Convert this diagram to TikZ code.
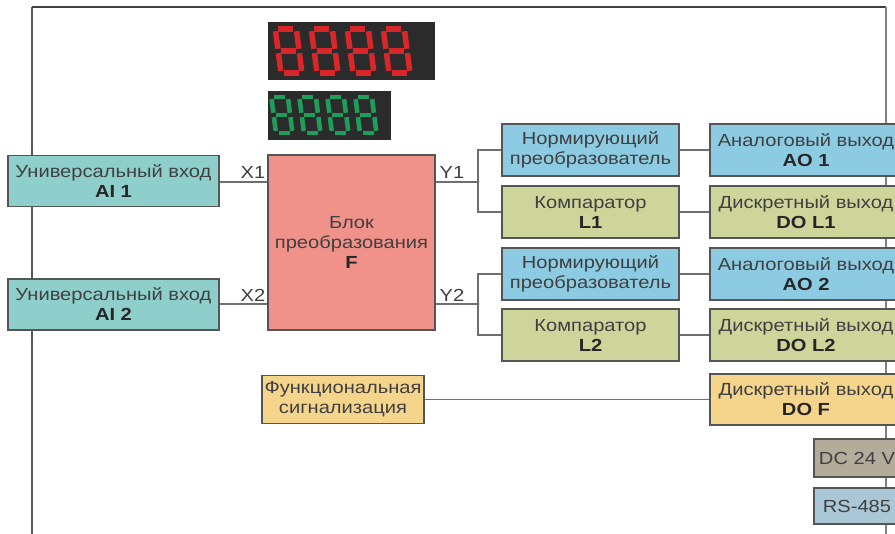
\documentclass[tikz,border=0pt]{standalone}
\usepackage{fontspec}
\setmainfont{Liberation Sans}[FakeStretch=1.15]
\definecolor{aicol}{HTML}{8FCFCB}
\definecolor{normcol}{HTML}{8DCBE3}
\definecolor{compcol}{HTML}{CDD59B}
\definecolor{fcol}{HTML}{F0918A}
\definecolor{funccol}{HTML}{F5D58C}
\definecolor{dccol}{HTML}{B3AC9B}
\definecolor{rscol}{HTML}{A9C7D6}
\definecolor{dispbg}{HTML}{2B2B2B}
\definecolor{segred}{HTML}{D8262A}
\definecolor{seggreen}{HTML}{1E9E5A}
\definecolor{bordcol}{HTML}{555555}
\definecolor{txtcol}{HTML}{404040}
\definecolor{wirecol}{HTML}{6E6E6E}
\newcommand\segdigit[6]{%
  \begin{scope}[shift={(#1,#2)},yscale=-1,xslant=0.13]
    \foreach \p/\q in {{(2.8,#4)}/{(#3-2.8,#4)},{(2.8,#4/2)}/{(#3-2.8,#4/2)},{(2.8,0)}/{(#3-2.8,0)},{(0,#4/2+2.2)}/{(0,#4-2.2)},{(0,2.2)}/{(0,#4/2-2.2)},{(#3,#4/2+2.2)}/{(#3,#4-2.2)},{(#3,2.2)}/{(#3,#4/2-2.2)}}{
      \draw[#5,line width=#6] \p -- \q;
    }
  \end{scope}}
\tikzset{
  blk/.style={draw=bordcol,line width=1.2pt,rectangle,inner sep=0pt,align=center,
    text=txtcol,font=\fontsize{17.5}{20}\selectfont},
  wire/.style={draw=wirecol,line width=1.6pt},
  frame/.style={line width=2pt},
  lbl/.style={text=txtcol,font=\fontsize{17.5}{20}\selectfont,inner sep=0pt}
}
\begin{document}
\begin{tikzpicture}[x=1pt,y=-1pt]
\useasboundingbox (0,0) rectangle (895,534);
\clip (0,0) rectangle (895,534);
\fill[white] (0,0) rectangle (895,534);
% frame
\coordinate (tl) at (32,7);
\coordinate (tr) at (886,7);
\coordinate (bl) at (32,540);
\coordinate (br) at (886,540);
\draw[frame,draw=black!65] (bl) -- (tl);
\draw[frame,draw=black!75] (tl) -- (tr);
\draw[frame,draw=black!50] (tr) -- (br);
% displays
\fill[dispbg] (268,22) rectangle (435,80);
\fill[dispbg] (268,91) rectangle (391,140);
\foreach \xx in {281,317,353,389}{\segdigit{\xx}{73}{21}{44}{segred}{5.5}}
\foreach \xx in {276,304,332,360}{\segdigit{\xx}{133}{16.5}{36}{seggreen}{4.6}}
% nodes
\node[blk,fill=aicol,minimum width=211,minimum height=51] (ai1) at (113.5,181) {Универсальный вход\\\textbf{\color{black!85}AI 1}};
\node[blk,fill=aicol,minimum width=211,minimum height=51] (ai2) at (113.5,304.5) {Универсальный вход\\\textbf{\color{black!85}AI 2}};
\node[blk,fill=fcol,minimum width=167,minimum height=175] (F) at (351.5,242.5) {Блок\\преобразования\\\textbf{\color{black!85}F}};
\node[blk,fill=normcol,minimum width=177,minimum height=52] (n1) at (590.5,150) {Нормирующий\\преобразователь};
\node[blk,fill=compcol,minimum width=177,minimum height=52] (c1) at (590.5,212) {Компаратор\\\textbf{\color{black!85}L1}};
\node[blk,fill=normcol,minimum width=177,minimum height=52] (n2) at (590.5,274) {Нормирующий\\преобразователь};
\node[blk,fill=compcol,minimum width=177,minimum height=52] (c2) at (590.5,335) {Компаратор\\\textbf{\color{black!85}L2}};
\node[blk,fill=normcol,minimum width=192,minimum height=52] (ao1) at (806,150) {Аналоговый выход\\\textbf{\color{black!85}AO 1}};
\node[blk,fill=compcol,minimum width=192,minimum height=52] (do1) at (806,212) {Дискретный выход\\\textbf{\color{black!85}DO L1}};
\node[blk,fill=normcol,minimum width=192,minimum height=52] (ao2) at (806,274) {Аналоговый выход\\\textbf{\color{black!85}AO 2}};
\node[blk,fill=compcol,minimum width=192,minimum height=52] (do2) at (806,335) {Дискретный выход\\\textbf{\color{black!85}DO L2}};
\node[blk,fill=funccol,minimum width=192,minimum height=51] (dof) at (806,399.5) {Дискретный выход\\\textbf{\color{black!85}DO F}};
\node[blk,fill=funccol,minimum width=162,minimum height=48] (func) at (343,399.5) {Функциональная\\сигнализация};
\node[blk,fill=dccol,minimum width=86,minimum height=38] (dc) at (857,458) {DC 24 V};
\node[blk,fill=rscol,minimum width=86,minimum height=36] (rs) at (857,506) {RS-485};
% junctions
\coordinate (j1) at (478,182);
\coordinate (j2) at (478,304);
% wires
\draw[wire] (ai1.east |- j1) -- (F.west |- j1);
\draw[wire] (ai2.east |- j2) -- (F.west |- j2);
\draw[wire] (F.east |- j1) -- (j1);
\draw[wire] (F.east |- j2) -- (j2);
\draw[wire] (n1.west) -- (n1.west -| j1) -- (c1.west -| j1) -- (c1.west);
\draw[wire] (n2.west) -- (n2.west -| j2) -- (c2.west -| j2) -- (c2.west);
\fill[wirecol] (j1) circle (1.5);
\fill[wirecol] (j2) circle (1.5);
\draw[wire] (n1.east) -- (ao1.west);
\draw[wire] (c1.east) -- (do1.west);
\draw[wire] (n2.east) -- (ao2.west);
\draw[wire] (c2.east) -- (do2.west);
\draw[wire] (func.east) -- (dof.west);
% labels
\node[lbl] (x1) at (253,172) {X1};
\node[lbl] (x2) at (253,295) {X2};
\node[lbl] (y1) at (452,172) {Y1};
\node[lbl] (y2) at (452,295) {Y2};
\end{tikzpicture}
\end{document}
